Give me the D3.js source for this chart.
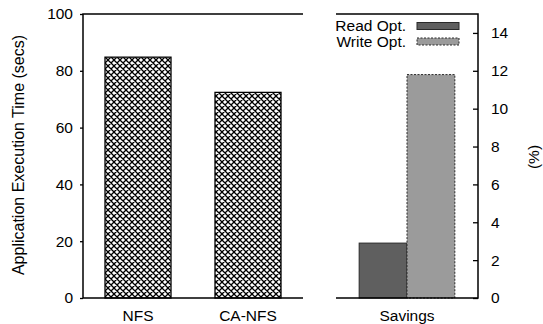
<!DOCTYPE html>
<html>
<head>
<meta charset="utf-8">
<script src="https://cdn.jsdelivr.net/npm/d3@7"></script>
<style>
  html, body { margin: 0; padding: 0; background: #fff; }
  svg { display: block; }
  text { font-family: "Liberation Sans", Arial, Helvetica, sans-serif; fill: #000; }
</style>
</head>
<body>
<svg id="chart" width="543" height="324"></svg>
<script>
// ---- data ----
const timeCategories = ["NFS", "CA-NFS"];
const timeValues = [84.8, 72.4];
const timeTicks = [0, 20, 40, 60, 80, 100];

const savingsCategories = ["Savings"];
const savingsSeries = ["Read Opt.", "Write Opt."];
const savingsValues = [2.9, 11.8];
const savingsTicks = [0, 2, 4, 6, 8, 10, 12, 14];

const yLabelLeft = "Application Execution Time (secs)";
const yLabelRight = "(%)";

(function () {
// ---- layout ----
const svg = d3.select("#chart");
const yTop = 14, yBot = 298;
const L = { x0: 83, x1: 303 };
const R = { x0: 336, x1: 478 };
const FS = 15.5;

// pattern
const defs = svg.append("defs");
const pat = defs.append("pattern").attr("id", "xhatch")
  .attr("patternUnits", "userSpaceOnUse").attr("width", 6).attr("height", 6);
pat.append("rect").attr("width", 6).attr("height", 6).attr("fill", "#fff");
pat.append("path").attr("d", "M-1,1 L1,-1 M0,6 L6,0 M5,7 L7,5 M-1,5 L1,7 M0,0 L6,6 M5,-1 L7,1")
  .attr("stroke", "#000").attr("stroke-width", 1.3);

// ---- left panel ----
const xL = d3.scaleBand().domain(timeCategories).range([L.x0, L.x1])
  .paddingInner(0.4).paddingOuter(0.2);
const yL = d3.scaleLinear().domain([0, 100]).range([yBot, yTop]);

svg.append("g").selectAll("rect").data(timeValues).join("rect")
  .attr("x", (d, i) => xL(timeCategories[i]))
  .attr("width", xL.bandwidth())
  .attr("y", d => yL(d))
  .attr("height", d => yL(0) - yL(d))
  .attr("fill", "url(#xhatch)")
  .attr("stroke", "#000").attr("stroke-width", 1.3);

const axL = svg.append("g").attr("transform", `translate(${L.x0},0)`)
  .call(d3.axisLeft(yL).tickValues(timeTicks).tickSize(3).tickPadding(7).tickSizeOuter(0));
axL.select(".domain").remove();
axL.selectAll("line").attr("stroke", "#000").attr("stroke-width", 1.3);
axL.selectAll("text").attr("font-size", FS).attr("font-family", "Liberation Sans, Arial, sans-serif");

// frame lines left
svg.append("path")
  .attr("d", `M${L.x1},${yTop} H${L.x0} V${yBot} H${L.x1}`)
  .attr("fill", "none").attr("stroke", "#000").attr("stroke-width", 1.5);

// category labels
svg.append("g").selectAll("text").data(timeCategories).join("text")
  .attr("x", d => xL(d) + xL.bandwidth() / 2)
  .attr("y", 321)
  .attr("text-anchor", "middle").attr("font-size", FS)
  .text(d => d);

svg.append("text")
  .attr("transform", `translate(24,155) rotate(-90)`)
  .attr("text-anchor", "middle").attr("font-size", 16)
  .text(yLabelLeft);

// ---- right panel ----
const xR = d3.scaleBand().domain(savingsCategories).range([R.x0, R.x1])
  .paddingInner(0).paddingOuter(0.242);
const xS = d3.scaleBand().domain(savingsSeries).range([0, xR.bandwidth()]).padding(0);
const yR = d3.scaleLinear().domain([0, 15]).range([yBot, yTop]);

const fills = ["#5f5f5f", "#9b9b9b"];
const strokes = ["#2a2a2a", "#2a2a2a"];
const dashes = [null, "2,1.5"];

svg.append("g").selectAll("rect").data(savingsValues).join("rect")
  .attr("x", (d, i) => xR("Savings") + xS(savingsSeries[i]))
  .attr("width", xS.bandwidth())
  .attr("y", d => yR(d))
  .attr("height", d => yR(0) - yR(d))
  .attr("fill", (d, i) => fills[i])
  .attr("stroke", (d, i) => strokes[i])
  .attr("stroke-dasharray", (d, i) => dashes[i])
  .attr("stroke-width", 1);

const axR = svg.append("g").attr("transform", `translate(${R.x1},0)`)
  .call(d3.axisRight(yR).tickValues(savingsTicks).tickSize(-5).tickPadding(13).tickSizeOuter(0));
axR.select(".domain").remove();
axR.selectAll("line").attr("stroke", "#000").attr("stroke-width", 1.3);
axR.selectAll("text").attr("font-size", FS).attr("font-family", "Liberation Sans, Arial, sans-serif");

svg.append("path")
  .attr("d", `M${R.x0},${yTop} H${R.x1} V${yBot} H${R.x0}`)
  .attr("fill", "none").attr("stroke", "#000").attr("stroke-width", 1.5);

svg.append("g").selectAll("text").data(savingsCategories).join("text")
  .attr("x", d => xR(d) + xR.bandwidth() / 2)
  .attr("y", 321)
  .attr("text-anchor", "middle").attr("font-size", FS)
  .text(d => d);

svg.append("text")
  .attr("transform", `translate(535,157) rotate(-90)`)
  .attr("text-anchor", "middle").attr("dominant-baseline", "middle").attr("font-size", FS)
  .text(yLabelRight);

// legend
const leg = svg.append("g").selectAll("g").data(savingsSeries).join("g")
  .attr("transform", (d, i) => `translate(0,${26 + i * 15.5})`);
leg.append("text").attr("x", 406).attr("y", 0).attr("dy", "0.35em")
  .attr("text-anchor", "end").attr("font-size", FS).text(d => d);
leg.append("rect").attr("x", 417).attr("y", -3.5).attr("width", 42).attr("height", 7)
  .attr("fill", (d, i) => fills[i]).attr("stroke", (d, i) => strokes[i])
  .attr("stroke-dasharray", (d, i) => dashes[i]).attr("stroke-width", 1);
})();
</script>
</body>
</html>
